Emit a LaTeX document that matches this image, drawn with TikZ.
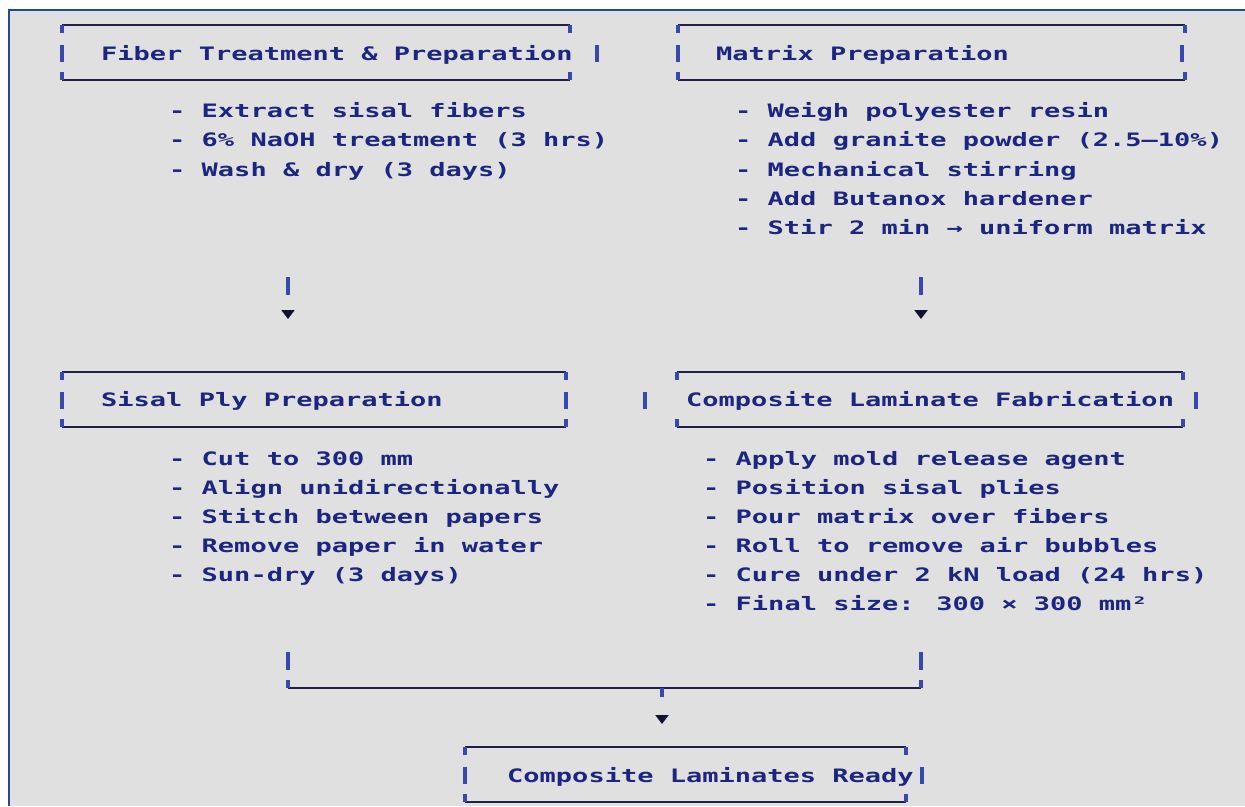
\documentclass[tikz,border=0pt]{standalone}
\usepackage{fontspec}
\newfontfamily\asciifont[FakeStretch=1.46]{DejaVu Sans Mono}
\usetikzlibrary{arrows.meta}

\definecolor{sheet}{HTML}{E0E0E0}
\definecolor{edge}{HTML}{1F4E8C}
\definecolor{ink}{HTML}{1C2580}
\definecolor{pipeblue}{HTML}{3949AB}
\definecolor{rule}{HTML}{1E2046}
\definecolor{tipdark}{HTML}{0F1232}

\tikzset{
  steptitle/.style={anchor=base west, inner sep=0pt, text=ink, font=\asciifont\bfseries\fontsize{18.5}{22}\selectfont},
  stepitem/.style={steptitle},
  boxline/.style={draw=rule, line width=1.8pt},
  pipe/.style={draw=pipeblue, line width=3.2pt},
  flow/.style={pipe, dash pattern=on #1 off 300pt, -{Triangle[length=9pt, width=13pt, color=tipdark]}},
}

% left, right, top, left bar, right bar
\newcommand\asciiframe[5]{
  \draw[boxline] (#1,#3) -- (#2,#3);
  \draw[boxline] (#1,#3+55) -- (#2,#3+55);
  \draw[pipe] (#1,#3) -- ++(0,8);
  \draw[pipe] (#2,#3) -- ++(0,8);
  \draw[pipe] (#1,#3+55) -- ++(0,-8);
  \draw[pipe] (#2,#3+55) -- ++(0,-8);
  \draw[pipe] (#4,#3+20) -- ++(0,17);
  \draw[pipe] (#5,#3+20) -- ++(0,17);
}

\begin{document}
\begin{tikzpicture}[x=1pt, y=-1pt]
  \useasboundingbox (0,0) rectangle (1245,806);
  \fill[white] (0,0) rectangle (1245,806);
  \fill[sheet] (9,10) rectangle (1245,806);
  \draw[edge, line width=2.8pt] (9,806) -- (9,10) -- (1245,10);

  % frames
  \asciiframe{62}{570}{25}{62}{597}
  \asciiframe{678}{1185}{25}{678}{1182}
  \asciiframe{62}{566}{372}{62}{566}
  \asciiframe{677}{1183}{372}{645}{1196}
  \asciiframe{465}{906}{747}{465}{922}

  \node (fiber) at (101,60) [steptitle] {Fiber Treatment \& Preparation};
  \node (matrix) at (716,60) [steptitle] {Matrix Preparation};
  \node (sisal) at (101,406) [steptitle] {Sisal Ply Preparation};
  \node (laminate) at (686,406) [steptitle] {Composite Laminate Fabrication};
  \node (ready) at (507,782) [steptitle] {Composite Laminates Ready};

  % step lists
  \foreach \t [count=\i] in {Extract sisal fibers, 6\% NaOH treatment (3 hrs), Wash \& dry (3 days)}
    \node (fib\i) at (169,{117.5+29.25*(\i-1)}) [stepitem] {- \t};
  \foreach \t [count=\i] in {Weigh polyester resin, Add granite powder (2.5–10\%), Mechanical stirring, Add Butanox hardener, Stir 2 min → uniform matrix}
    \node (mat\i) at (735,{117.5+29.25*(\i-1)}) [stepitem] {- \t};
  \foreach \t [count=\i] in {Cut to 300 mm, Align unidirectionally, Stitch between papers, Remove paper in water, Sun-dry (3 days)}
    \node (ply\i) at (169,{465.5+29*(\i-1)}) [stepitem] {- \t};
  \foreach \t [count=\i] in {Apply mold release agent, Position sisal plies, Pour matrix over fibers, Roll to remove air bubbles, Cure under 2 kN load (24 hrs), Final size: 300 × 300 mm²}
    \node (lam\i) at (703,{465.5+29*(\i-1)}) [stepitem] {- \t};

  % arrows
  \coordinate (fibOut) at (288,277);
  \coordinate (plyIn) at (288,319);
  \coordinate (matOut) at (921,277);
  \coordinate (lamIn) at (921,319);
  \draw[flow=18pt] (fibOut) -- (plyIn);
  \draw[flow=18pt] (matOut) -- (lamIn);

  % merge
  \coordinate (plyOut) at (288,652);
  \coordinate (lamOut) at (921,652);
  \coordinate (joinL) at (288,688);
  \coordinate (joinR) at (921,688);
  \coordinate (join) at (662,688);
  \coordinate (readyIn) at (662,724);
  \draw[pipe] (plyOut) -- ++(0,18);
  \draw[pipe] (lamOut) -- ++(0,18);
  \draw[boxline] (joinL) -- (joinR);
  \draw[pipe] (joinL) -- ++(0,-8);
  \draw[pipe] (joinR) -- ++(0,-8);
  \draw[flow=9pt] (join) -- (readyIn);
\end{tikzpicture}
\end{document}
